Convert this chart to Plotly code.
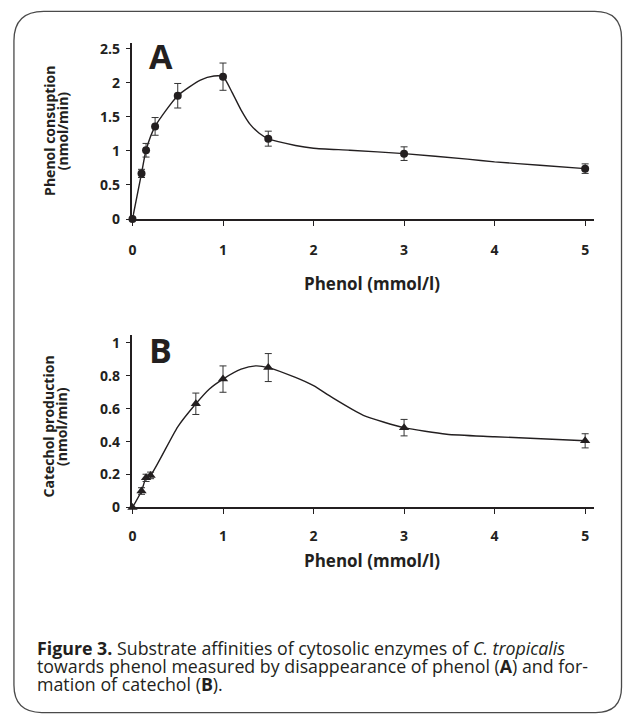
import plotly.graph_objects as go

W, H = 624, 723

# ---- Data: panel A (phenol consumption) ----
a_x = [0, 0.1, 0.15, 0.25, 0.5, 1.0, 1.5, 3.0, 5.0]
a_y = [0, 0.67, 1.01, 1.36, 1.81, 2.09, 1.18, 0.96, 0.74]
a_err = [0, 0.06, 0.10, 0.13, 0.18, 0.20, 0.11, 0.10, 0.07]
# smoothed curve drawn in the figure
a_curve_x = [0, 0.1, 0.15, 0.25, 0.5, 0.75, 0.9, 1.0, 1.1, 1.2, 1.3, 1.4, 1.5, 1.8, 2.0, 2.4, 3.0, 3.7, 4.0, 4.5, 5.0]
a_curve_y = [0, 0.67, 1.01, 1.36, 1.81, 2.04, 2.10, 2.09, 1.86, 1.60, 1.39, 1.26, 1.18, 1.08, 1.04, 1.01, 0.96, 0.88, 0.84, 0.79, 0.74]

# ---- Data: panel B (catechol production) ----
b_x = [0, 0.1, 0.15, 0.2, 0.7, 1.0, 1.5, 3.0, 5.0]
b_y = [0, 0.10, 0.18, 0.195, 0.63, 0.78, 0.85, 0.485, 0.405]
b_err = [0, 0.02, 0.022, 0.02, 0.065, 0.08, 0.085, 0.05, 0.043]
b_curve_x = [0, 0.1, 0.15, 0.2, 0.5, 0.7, 0.85, 1.0, 1.2, 1.36, 1.5, 1.8, 2.0, 2.2, 2.55, 3.0, 3.47, 4.0, 5.0]
b_curve_y = [0, 0.10, 0.18, 0.195, 0.49, 0.63, 0.72, 0.78, 0.84, 0.86, 0.85, 0.79, 0.74, 0.67, 0.56, 0.485, 0.445, 0.43, 0.405]

x_ticks = [0, 1, 2, 3, 4, 5]
a_yticks = [0, 0.5, 1, 1.5, 2, 2.5]
a_yticklabels = ["0", "0.5", "1", "1.5", "2", "2.5"]
b_yticks = [0, 0.2, 0.4, 0.6, 0.8, 1]
b_yticklabels = ["0", "0.2", "0.4", "0.6", "0.8", "1"]

INK = "#231f20"
FONT = "Open Sans"

def px(x):
    return x / W

def py(y):
    return 1 - y / H

fig = go.Figure()

# Panel A
fig.add_trace(go.Scatter(x=a_curve_x, y=a_curve_y, mode="lines", line=dict(color=INK, width=1.4, shape="spline", smoothing=0.6),
                         xaxis="x", yaxis="y", hoverinfo="skip", showlegend=False, cliponaxis=False))
fig.add_trace(go.Scatter(x=a_x, y=a_y, mode="markers", marker=dict(symbol="circle", size=8, color=INK),
                         error_y=dict(type="data", array=a_err, color="#333333", thickness=1, width=3.5),
                         xaxis="x", yaxis="y", showlegend=False, cliponaxis=False))
# Panel B
fig.add_trace(go.Scatter(x=b_curve_x, y=b_curve_y, mode="lines", line=dict(color=INK, width=1.4, shape="spline", smoothing=0.6),
                         xaxis="x2", yaxis="y2", hoverinfo="skip", showlegend=False, cliponaxis=False))
fig.add_trace(go.Scatter(x=b_x, y=b_y, mode="markers", marker=dict(symbol="triangle-up", size=9, color=INK),
                         error_y=dict(type="data", array=b_err, color="#333333", thickness=1, width=3.5),
                         xaxis="x2", yaxis="y2", showlegend=False, cliponaxis=False))

xdom = [px(129.3), px(594)]
tickfont = dict(family=FONT, size=14, color=INK, weight="bold")

common_x = dict(range=[0, 5.1], domain=xdom, tickvals=x_ticks, ticks="outside", ticklen=5, tickwidth=1.2,
                tickcolor=INK, showline=True, linecolor=INK, linewidth=1.5, showgrid=False, zeroline=False,
                tickfont=tickfont)
common_y = dict(ticks="outside", ticklen=5, tickwidth=1.2, tickcolor=INK, showline=True, linecolor=INK,
                linewidth=1.5, showgrid=False, zeroline=False, tickfont=tickfont, ticklabelstandoff=3)

fig.update_layout(
    width=W, height=H, autosize=False,
    margin=dict(l=0, r=0, t=0, b=0),
    paper_bgcolor="white", plot_bgcolor="white",
    xaxis=dict(common_x, anchor="y", ticklabelstandoff=12),
    yaxis=dict(common_y, range=[0, 2.59], domain=[py(219), py(39.3)], anchor="x",
               tickvals=a_yticks, ticktext=a_yticklabels),
    xaxis2=dict(common_x, anchor="y2", ticklabelstandoff=10),
    yaxis2=dict(common_y, range=[0, 1.05], domain=[py(512.7), py(336.7)], anchor="x2",
                tickvals=b_yticks, ticktext=b_yticklabels),
)

ann = []
# panel letters
ann.append(dict(text="<b>A</b>", x=px(158), y=py(53), xref="paper", yref="paper", showarrow=False,
                font=dict(family=FONT, size=34, color=INK), xanchor="center", yanchor="middle"))
ann.append(dict(text="<b>B</b>", x=px(158), y=py(352), xref="paper", yref="paper", showarrow=False,
                font=dict(family=FONT, size=34, color=INK), xanchor="center", yanchor="middle"))
# y titles (two lines each)
ytitle_font = dict(family=FONT, size=14, color=INK, weight="bold")
for txt, xx, yy in [("Phenol consuption", 45, 129.5), ("(nmol/min)", 58.5, 129.5),
                    ("Catechol production", 45, 430.5), ("(nmol/min)", 58.5, 430.5)]:
    ann.append(dict(text=txt, x=px(xx), y=py(yy), xref="paper", yref="paper", showarrow=False, textangle=-90,
                    font=ytitle_font, xanchor="center", yanchor="middle"))
# x titles
for yy in [285, 566.5]:
    ann.append(dict(text="<b>Phenol (mmol/l)</b>", x=px(370), y=py(yy), xref="paper", yref="paper", showarrow=False,
                    font=dict(family=FONT, size=17, color=INK), xanchor="center", yanchor="middle"))
# caption
cap_lines = [
    "<b>Figure 3.</b> Substrate affinities of cytosolic enzymes of <i>C. tropicalis</i>",
    "towards phenol measured by disappearance of phenol (<b>A</b>) and for-",
    "mation of catechol (<b>B</b>).",
]
cap_y = [656, 674, 692]
for t, yy in zip(cap_lines, cap_y):
    ann.append(dict(text=t, x=px(31), y=py(yy), xref="paper", yref="paper", showarrow=False,
                    font=dict(family=FONT, size=17.8, color=INK), xanchor="left", yanchor="middle"))
fig.update_layout(annotations=ann)

# rounded frame
L, R, T, B = 10, 621.5, 7.5, 721.5
rtl, rtr, rbl, rbr = 30, 27, 28, 26
path = (f"M {px(L)},{py(T + rtl)} Q {px(L)},{py(T)} {px(L + rtl)},{py(T)} "
        f"L {px(R - rtr)},{py(T)} Q {px(R)},{py(T)} {px(R)},{py(T + rtr)} "
        f"L {px(R)},{py(B - rbr)} Q {px(R)},{py(B)} {px(R - rbr)},{py(B)} "
        f"L {px(L + rbl)},{py(B)} Q {px(L)},{py(B)} {px(L)},{py(B - rbl)} Z")
fig.add_shape(type="path", path=path, xref="paper", yref="paper", line=dict(color="#4a4a4a", width=1.3),
              fillcolor="rgba(0,0,0,0)", layer="below")

fig.write_html(
    "out.html",
    config={"displayModeBar": False, "responsive": False},
    post_script=("document.body.style.margin='0';document.body.style.overflow='hidden';"
                 "document.documentElement.style.overflow='hidden';"),
)
